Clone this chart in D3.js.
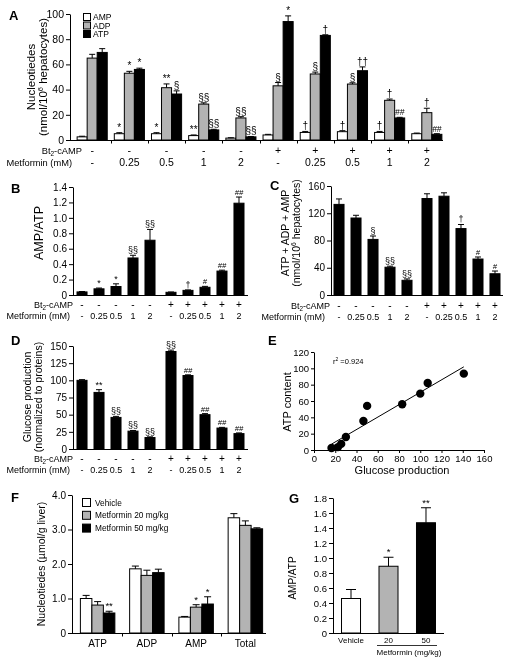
<!DOCTYPE html>
<html><head><meta charset="utf-8">
<script src="https://cdn.jsdelivr.net/npm/d3@7"></script>
<style>
body{margin:0;background:#fff}
svg{display:block;filter:grayscale(1)}
</style></head><body>
<svg id="c" width="510" height="665"></svg>
<script>
// ---------------- DATA ----------------
const bt2Row = ["-","-","-","-","-","+","+","+","+","+"];
const metRow = ["-","0.25","0.5","1","2","-","0.25","0.5","1","2"];

// Panel A: nucleotides (nmol/10^6 hepatocytes)
const aSeries = ["AMP","ADP","ATP"];
const aAMP    = [2.5, 5, 5, 3.5, 1.5, 4, 6, 6.6, 6, 5];
const aAMPerr = [0.5, 0.8, 0.8, 0.5, 0.3, 0.5, 0.8, 0.8, 0.8, 0.5];
const aADP    = [65, 53, 41.5, 28.5, 17.5, 43, 52.4, 44.4, 31.5, 21.7];
const aADPerr = [3, 1.5, 3, 1, 1, 2.6, 1.5, 1, 1, 3.5];
const aATP    = [69.5, 56, 36.5, 8, 2.5, 94, 83, 55, 17.5, 4.5];
const aATPerr = [3, 1, 2.5, 0.5, 0.3, 4.5, 0.5, 3, 0.5, 0.5];
const aAMPsig = ["","*","*","**","","","†","†","†",""];
const aADPsig = ["","*","**","§§","§§","§","§","§","†","†"];
const aATPsig = ["","*","§","§§","§§","*","†","††","##","##"];
const aTicks  = [0,20,40,60,80,100];

// Panel B: AMP/ATP
const bRatio = [0.04, 0.08, 0.11, 0.48, 0.71, 0.035, 0.06, 0.1, 0.31, 1.19];
const bErr   = [0.005, 0.01, 0.035, 0.035, 0.14, 0.004, 0.006, 0.012, 0.012, 0.08];
const bSig   = ["","*","*","§§","§§","","†","#","##","##"];
const bTicks = [0,0.2,0.4,0.6,0.8,1.0,1.2,1.4];

// Panel C: ATP + ADP + AMP
const cTotal = [133, 113, 81.6, 40.8, 21.6, 141.6, 145, 97.5, 52.8, 31.2];
const cErr   = [8, 4, 5, 1.5, 2, 7, 5, 6, 3, 4];
const cSig   = ["","","§","§§","§§","","","†","#","#"];
const cTicks = [0,40,80,120,160];

// Panel D: glucose production
const dGlucose = [100, 82.4, 46, 26, 16.7, 142, 107, 50, 30.5, 22.4];
const dErr     = [1, 4, 1.5, 1, 1, 2, 1, 1.5, 1, 1];
const dSig     = ["","**","§§","§§","§§","§§","##","##","##","##"];
const dTicks   = [0,25,50,75,100,125,150];

// Panel E: ATP content vs glucose production
const eGlucose = [16.5, 22.5, 25.6, 30, 46.5, 50, 83, 100, 107, 141];
const eATP     = [2.5, 3.5, 7.5, 16, 35.5, 54, 56, 69, 82, 93.5];
const eXTicks  = [0,20,40,60,80,100,120,140,160];
const eYTicks  = [0,20,40,60,80,100,120];
const eR2      = "0.924";

// Panel F: liver nucleotides (µmol/g liver)
const fCats    = ["ATP","ADP","AMP","Total"];
const fGroups  = ["Vehicle","Metformin 20 mg/kg","Metformin 50 mg/kg"];
const fVehicle = [1.0, 1.86, 0.46, 3.34];
const fVehErr  = [0.09, 0.08, 0.02, 0.12];
const fMet20   = [0.81, 1.67, 0.75, 3.12];
const fMet20Err= [0.1, 0.15, 0.07, 0.13];
const fMet50   = [0.58, 1.75, 0.84, 3.02];
const fMet50Err= [0.05, 0.1, 0.21, 0.03];
const fVehSig  = ["","","",""];
const fMet20Sig= ["","","*",""];
const fMet50Sig= ["**","","*",""];
const fTicks   = [0,1,2,3,4];

// Panel G: liver AMP/ATP
const gGroups = ["Vehicle","20","50"];
const gRatio  = [0.46, 0.89, 1.47];
const gErr    = [0.12, 0.12, 0.2];
const gSig    = ["","*","**"];
const gTicks  = [0,0.2,0.4,0.6,0.8,1.0,1.2,1.4,1.6,1.8];

// ---------------- DRAWING ----------------
const FONT = '"Liberation Sans", Arial, Helvetica, sans-serif';
const GREY = "#b3b3b3";
const svg = d3.select("#c").attr("font-family", FONT);

function line(x1,y1,x2,y2,w){
  svg.append("line").attr("x1",x1).attr("y1",y1).attr("x2",x2).attr("y2",y2)
    .attr("stroke","#000").attr("stroke-width",w||1);
}
function text(x,y,s,fs,anchor,opts){
  const t = svg.append("text").attr("x",x).attr("y",y).attr("font-size",fs)
    .attr("text-anchor",anchor||"middle").attr("fill","#000").text(s);
  if (opts && opts.bold) t.attr("font-weight","bold");
  if (opts && opts.italic) t.attr("font-style","italic");
  return t;
}
function panelLabel(x,y,s){ text(x,y,s,13,"start",{bold:true}); }
function yAxis(scale,x,ticks,fmt,fs,tick){
  const g = svg.append("g").attr("transform",`translate(${x},0)`)
    .call(d3.axisLeft(scale).tickValues(ticks).tickFormat(fmt).tickSize(tick||4).tickSizeOuter(0).tickPadding(2));
  g.attr("font-family",FONT).attr("font-size",fs);
  g.selectAll("line,path").attr("stroke","#000");
  g.selectAll("text").attr("fill","#000");
  return g;
}
function vTitle(x,cy,lines,fs,gap){
  lines.forEach((l,i)=>{
    const t = svg.append("text").attr("transform",`translate(${x+i*(gap||fs*1.05)},${cy}) rotate(-90)`)
      .attr("text-anchor","middle").attr("font-size",fs).attr("fill","#000");
    l.forEach(part=>{
      const ts = t.append("tspan").text(part.t);
      if (part.sup) ts.attr("font-size",fs*0.65).attr("dy",-fs*0.35);
      if (part.after) ts.attr("dy",fs*0.35);
    });
  });
}
function bt2Label(xEnd,y,fs){
  const t = svg.append("text").attr("x",xEnd).attr("y",y).attr("font-size",fs)
    .attr("text-anchor","end").attr("fill","#000");
  t.append("tspan").text("Bt");
  t.append("tspan").text("2").attr("font-size",fs*0.7).attr("dy",fs*0.25);
  t.append("tspan").text("-cAMP").attr("dy",-fs*0.25);
}
function sigText(cx,y,s,fs){
  const it = s.indexOf("#")>=0;
  text(cx,y,s,it?fs*0.85:fs,"middle",{italic:it});
}
function bar(x,w,ys,v,e,sig,fill,cap,sfs){
  const y = ys(v), y0 = ys(0);
  svg.append("rect").attr("x",x).attr("y",y).attr("width",w).attr("height",Math.max(0,y0-y))
    .attr("fill",fill).attr("stroke","#000").attr("stroke-width",1);
  const cx = x + w/2;
  let top = y;
  if (e>0){
    const ye = ys(v+e);
    line(cx,y,cx,ye); line(cx-cap,ye,cx+cap,ye);
    top = ye;
  }
  if (sig) sigText(cx, top-2, sig, sfs);
}

// ---------- Panel A ----------
(function(){
  const ys = d3.scaleLinear().domain([0,100]).range([140,14]);
  const xs = d3.scaleBand().domain(d3.range(10)).range([73.4,445.6]).paddingInner(0.19).paddingOuter(0.1);
  const ss = d3.scaleBand().domain(aSeries).range([0,xs.bandwidth()]);
  yAxis(ys,70,aTicks,d3.format("d"),10.5);
  line(70,140.5,443,140.5);
  d3.range(1,10).forEach(i=>{
    const xb = Math.round(xs(i) - xs.step()*xs.paddingInner()/2)+0.5;
    line(xb,140.5,xb,143.5);
  });
  const vals = {AMP:[aAMP,aAMPerr,aAMPsig,"#fff"],ADP:[aADP,aADPerr,aADPsig,GREY],ATP:[aATP,aATPerr,aATPsig,"#000"]};
  d3.range(10).forEach(i=>{
    aSeries.forEach(s=>{
      const [v,e,sg,f] = vals[s];
      bar(xs(i)+ss(s), ss.bandwidth(), ys, v[i], e[i], sg[i], f, 3, 10);
    });
    const cx = xs(i)+xs.bandwidth()/2;
    text(cx,153.5,bt2Row[i],10.5);
    text(cx,166,metRow[i],10.5);
  });
  bt2Label(82,153.5,9.3);
  text(72,166,"Metformin (mM)",9.3,"end");
  vTitle(35,77,[[{t:"Nucleotiedes"}],[{t:"(nmol/10"},{t:"6",sup:true},{t:" hepatocytes)",after:true}]],11.5,12);
  // legend
  aSeries.forEach((s,i)=>{
    const y = 13 + i*8.5;
    svg.append("rect").attr("x",83.5).attr("y",y+0.5).attr("width",7).attr("height",7)
      .attr("fill",vals[s][3]).attr("stroke","#000");
    text(93,y+7,s,8.5,"start");
  });
  panelLabel(9,20,"A");
})();

// ---------- single-series panels ----------
function singlePanel(c){
  const ys = d3.scaleLinear().domain(c.yDomain).range(c.yRange);
  const xs = d3.scaleBand().domain(d3.range(10)).range(c.bandRange).paddingInner(0.41);
  const xOf = i => xs(i) + (i>=5 ? c.gap : 0);
  yAxis(ys,c.axisX,c.ticks,c.fmt,c.tfs);
  const y0 = c.yRange[0]+0.5;
  line(c.axisX,y0,c.axisEnd,y0);
  d3.range(10).forEach(i=>{
    bar(xOf(i), xs.bandwidth(), ys, c.values[i], c.errs[i], c.sigs[i], "#000", 3, 9);
    const cx = xOf(i)+xs.bandwidth()/2;
    text(cx,c.rowY[0],bt2Row[i],10);
    text(cx,c.rowY[1],metRow[i],9);
  });
  bt2Label(c.labEnd[0],c.rowY[0],9);
  text(c.labEnd[1],c.rowY[1],"Metformin (mM)",9,"end");
}
const fmt1 = v => v===0 ? "0" : d3.format(".1f")(v);

// Panel B
singlePanel({yDomain:[0,1.4],yRange:[295,187],bandRange:[77,240],gap:4,axisX:73,axisEnd:248,
  ticks:bTicks,fmt:fmt1,tfs:10,values:bRatio,errs:bErr,sigs:bSig,rowY:[308,318.5],labEnd:[73,70]});
vTitle(43,233,[[{t:"AMP/ATP"}]],12.5);
panelLabel(11,193,"B");

// Panel C
singlePanel({yDomain:[0,160],yRange:[295,186],bandRange:[334,497],gap:3,axisX:331,axisEnd:503,
  ticks:cTicks,fmt:d3.format("d"),tfs:10,values:cTotal,errs:cErr,sigs:cSig,rowY:[309,319.5],labEnd:[330,325]});
vTitle(289,233,[[{t:"ATP + ADP + AMP"}],[{t:"(nmol/10"},{t:"6",sup:true},{t:" hepatocytes)",after:true}]],10.5,11);
panelLabel(270,190,"C");

// Panel D
singlePanel({yDomain:[0,150],yRange:[449,346],bandRange:[77,240],gap:4,axisX:73,axisEnd:248,
  ticks:dTicks,fmt:d3.format("d"),tfs:10,values:dGlucose,errs:dErr,sigs:dSig,rowY:[462,472.5],labEnd:[73,70]});
vTitle(31,397,[[{t:"Glucose production"}],[{t:"(normalized to proteins)"}]],10.5,11);
panelLabel(11,345,"D");

// ---------- Panel E ----------
(function(){
  const xs = d3.scaleLinear().domain([0,160]).range([314,484]);
  const ys = d3.scaleLinear().domain([0,120]).range([450,352]);
  yAxis(ys,314,eYTicks,d3.format("d"),9.5,3);
  const gx = svg.append("g").attr("transform","translate(0,450)")
    .call(d3.axisBottom(xs).tickValues(eXTicks).tickFormat(d3.format("d")).tickSize(3).tickSizeOuter(0).tickPadding(2));
  gx.attr("font-family",FONT).attr("font-size",9.5);
  gx.selectAll("line,path").attr("stroke","#000");
  gx.selectAll("text").attr("fill","#000");
  // regression line
  const mx = d3.mean(eGlucose), my = d3.mean(eATP);
  const slope = d3.sum(eGlucose,(x,i)=>(x-mx)*(eATP[i]-my)) / d3.sum(eGlucose,x=>(x-mx)*(x-mx));
  const icpt = my - slope*mx;
  const x1 = d3.min(eGlucose), x2 = d3.max(eGlucose);
  line(xs(x1),ys(icpt+slope*x1),xs(x2),ys(icpt+slope*x2));
  eGlucose.forEach((g,i)=>{
    svg.append("circle").attr("cx",xs(g)).attr("cy",ys(eATP[i])).attr("r",4.2).attr("fill","#000");
  });
  const t = svg.append("text").attr("x",333).attr("y",364).attr("font-size",7.5).attr("fill","#000");
  t.append("tspan").text("r");
  t.append("tspan").text("2").attr("font-size",5).attr("dy",-3);
  t.append("tspan").text(" =" + eR2).attr("dy",3);
  text(402,474,"Glucose production",11,"middle");
  vTitle(291,402,[[{t:"ATP content"}]],11);
  panelLabel(268,345,"E");
})();

// ---------- Panel F ----------
(function(){
  const ys = d3.scaleLinear().domain([0,4]).range([633,495]);
  const xs = d3.scaleBand().domain(fCats).range([73,270]).paddingInner(0.3).paddingOuter(0.15);
  const ss = d3.scaleBand().domain(fGroups).range([0,xs.bandwidth()]);
  yAxis(ys,72,fTicks,fmt1,10);
  line(72,633.5,266,633.5);
  fCats.slice(1).forEach(k=>{
    const xb = Math.round(xs(k) - xs.step()*xs.paddingInner()/2)+0.5;
    line(xb,633.5,xb,636.5);
  });
  const sets = [[fVehicle,fVehErr,fVehSig,"#fff"],[fMet20,fMet20Err,fMet20Sig,GREY],[fMet50,fMet50Err,fMet50Sig,"#000"]];
  fCats.forEach((k,i)=>{
    fGroups.forEach((gname,j)=>{
      const [v,e,sg,f] = sets[j];
      bar(xs(k)+ss(gname), ss.bandwidth(), ys, v[i], e[i], sg[i], f, 3.5, 9.5);
    });
    text(xs(k)+xs.bandwidth()/2,647,k,10);
  });
  fGroups.forEach((gname,j)=>{
    const y = 498 + j*12.8;
    svg.append("rect").attr("x",82.5).attr("y",y+0.5).attr("width",8).attr("height",8)
      .attr("fill",sets[j][3]).attr("stroke","#000");
    text(95,y+7.5,gname,8.3,"start");
  });
  vTitle(45,564,[[{t:"Nucleotiedes (µmol/g liver)"}]],10.5);
  panelLabel(11,502,"F");
})();

// ---------- Panel G ----------
(function(){
  const ys = d3.scaleLinear().domain([0,1.8]).range([633,498]);
  const xs = d3.scaleBand().domain(gGroups).range([333,444]).paddingInner(0.493).paddingOuter(0.227);
  yAxis(ys,333,gTicks,fmt1,9.5);
  line(333,633.5,444,633.5);
  const fills = ["#fff",GREY,"#000"];
  gGroups.forEach((k,i)=>{
    bar(xs(k), xs.bandwidth(), ys, gRatio[i], gErr[i], gSig[i], fills[i], 5, 9.5);
    text(xs(k)+xs.bandwidth()/2,643,k,8);
  });
  line(377,645.5,437,645.5,0.8);
  text(409,655,"Metformin (mg/kg)",8);
  vTitle(296,578,[[{t:"AMP/ATP"}]],10);
  panelLabel(289,503,"G");
})();
</script>
</body></html>
